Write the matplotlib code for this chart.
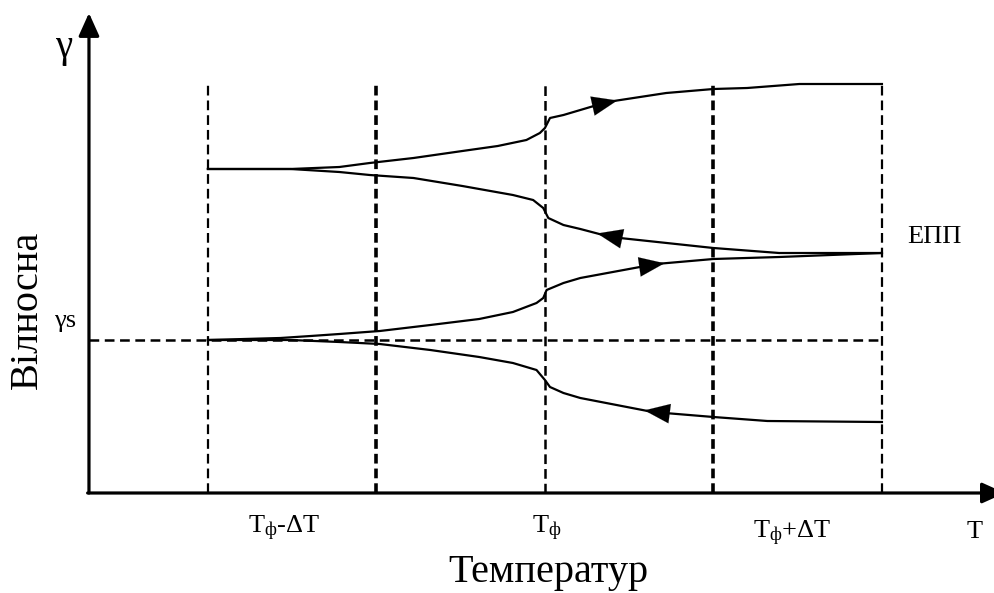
#!/usr/bin/env python
# Hysteresis sketch: relative value vs temperature
import numpy as np
import matplotlib.pyplot as plt

plt.rcParams['font.family'] = ['Liberation Serif', 'DejaVu Serif']
plt.rcParams['mathtext.fontset'] = 'custom'
plt.rcParams['mathtext.rm'] = 'Liberation Serif'
plt.rcParams['mathtext.it'] = 'Liberation Serif'
plt.rcParams['lines.scale_dashes'] = False

# dashed temperature levels and the gamma_s level
t_lines = [1.0, 2.0, 3.0, 4.0, 5.0]
t_line_widths = [1.6, 2.6, 1.8, 2.6, 1.6]
gamma_s = 1.53
top_level = 4.09

# upper pair of branches
up1_x = [1.00, 1.49, 1.78, 1.96, 2.22, 2.51, 2.72, 2.89, 2.97, 3.00, 3.03, 3.11, 3.21, 3.37, 3.72, 4.00, 4.20, 4.51, 5.00]
up1_y = [3.24, 3.24, 3.26, 3.30, 3.35, 3.42, 3.47, 3.53, 3.60, 3.65, 3.75, 3.78, 3.83, 3.91, 4.00, 4.04, 4.05, 4.09, 4.09]
dn1_x = [1.00, 1.49, 1.78, 1.96, 2.22, 2.51, 2.81, 2.93, 2.99, 3.02, 3.11, 3.21, 3.39, 4.00, 4.39, 5.00]
dn1_y = [3.24, 3.24, 3.21, 3.18, 3.15, 3.07, 2.98, 2.93, 2.85, 2.75, 2.68, 2.64, 2.56, 2.45, 2.40, 2.40]

# lower pair of branches
up2_x = [1.00, 1.43, 1.61, 1.78, 2.02, 2.32, 2.61, 2.81, 2.95, 2.99, 3.01, 3.11, 3.21, 3.66, 4.00, 4.39, 5.00]
up2_y = [1.53, 1.55, 1.57, 1.59, 1.62, 1.68, 1.74, 1.81, 1.90, 1.95, 2.03, 2.10, 2.15, 2.29, 2.34, 2.36, 2.40]
dn2_x = [1.00, 1.49, 1.78, 2.02, 2.32, 2.61, 2.81, 2.95, 3.00, 3.03, 3.11, 3.21, 3.64, 4.00, 4.32, 5.00]
dn2_y = [1.53, 1.53, 1.51, 1.49, 1.43, 1.36, 1.30, 1.23, 1.13, 1.06, 1.00, 0.95, 0.81, 0.76, 0.72, 0.71]

# arrow tips on each branch (x position, direction)
arrow_tips = [(3.43, 1), (3.31, -1), (3.71, 1), (3.59, -1)]

tick_labels = ['T$_{\\mathrm{ф}}$-ΔT', 'T$_{\\mathrm{ф}}$', 'T$_{\\mathrm{ф}}$+ΔT', 'T']
tick_pos = [(1.45, -0.40), (3.01, -0.40), (4.47, -0.45), (5.55, -0.45)]

x_origin = 0.294

fig = plt.figure(figsize=(9.95, 5.93), dpi=100)
ax = fig.add_axes([0, 0, 1, 1])
ax.set_xlim(-0.234, 5.671)
ax.set_ylim(-1.0, 4.93)
ax.axis('off')

# axes with arrows
ax.annotate('', xy=(x_origin, 4.80), xytext=(x_origin, 0), annotation_clip=False,
            arrowprops=dict(arrowstyle='-|>,head_length=1.0,head_width=0.45', lw=2.3,
                            color='k', shrinkA=0, shrinkB=0, mutation_scale=14))
ax.annotate('', xy=(5.73, 0), xytext=(x_origin - 0.008, 0), annotation_clip=False,
            arrowprops=dict(arrowstyle='-|>,head_length=1.0,head_width=0.45', lw=2.3,
                            color='k', shrinkA=0, shrinkB=0, mutation_scale=14))

# dashed guides
for t, w in zip(t_lines, t_line_widths):
    ax.plot([t, t], [0, top_level], color='k', lw=w, dashes=(7, 3.6))
ax.plot([x_origin, t_lines[-1]], [gamma_s, gamma_s], color='k', lw=1.8, dashes=(7, 4))

# branches
branches = [(up1_x, up1_y), (dn1_x, dn1_y), (up2_x, up2_y), (dn2_x, dn2_y)]
for xs, ys in branches:
    ax.plot(xs, ys, color='k', lw=1.6, solid_joinstyle='round')

for (tip, d), (xs, ys) in zip(arrow_tips, branches):
    tail = tip - d * 0.12
    ax.annotate('', xy=(tip, np.interp(tip, xs, ys)), xytext=(tail, np.interp(tail, xs, ys)),
                arrowprops=dict(arrowstyle='-|>,head_length=1.3,head_width=0.5', lw=0.1,
                                color='k', shrinkA=0, shrinkB=0, mutation_scale=14))

# texts
ax.text(0.145, 4.45, 'γ', fontsize=28, ha='center', va='center')
ax.text(0.151, 1.66, 'γs', fontsize=19, ha='center', va='baseline')
ax.text(-0.015, 1.83, 'Вілносна', fontsize=29, rotation=90, rotation_mode='anchor',
        ha='center', va='baseline')
for lab, (x, y) in zip(tick_labels, tick_pos):
    ax.text(x, y, lab, fontsize=19, ha='center', va='baseline')
ax.text(3.02, -0.89, 'Температур', fontsize=29, ha='center', va='baseline')
ax.text(5.31, 2.50, 'ЕПП', fontsize=19, ha='center', va='baseline')

plt.savefig('out.png', dpi=100)
